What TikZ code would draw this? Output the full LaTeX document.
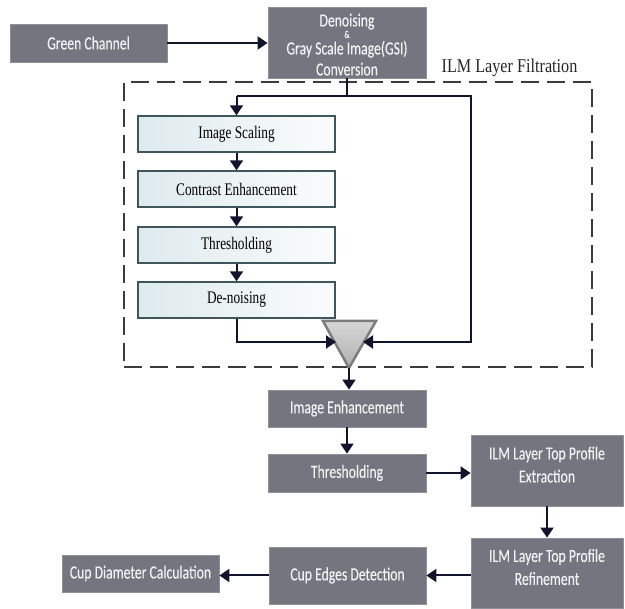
\documentclass[tikz,border=0pt]{standalone}
\usepackage{fontspec}
\usetikzlibrary{arrows.meta,calc}
\newfontfamily\boxfont[FakeStretch=0.74,FakeBold=0.3]{Carlito}
\newfontfamily\condserif[FakeStretch=0.75]{Liberation Serif}
\newfontfamily\titleserif[FakeStretch=0.83]{Liberation Serif}
\newcommand\gsifont{\boxfont\fontsize{18.5}{13}\selectfont\setlength{\lineskiplimit}{-50pt}}
\definecolor{boxgray}{RGB}{116,117,126}
\definecolor{boxtext}{RGB}{242,242,244}
\definecolor{arrowc}{RGB}{18,20,45}
\definecolor{innerline}{RGB}{62,86,92}
\definecolor{innerl}{RGB}{222,234,237}
\definecolor{innerr}{RGB}{250,252,252}
\definecolor{dashc}{RGB}{60,60,60}
\definecolor{tritop}{RGB}{215,215,215}
\definecolor{tribot}{RGB}{175,175,175}
\definecolor{triline}{RGB}{125,125,125}
\begin{document}
\begin{tikzpicture}[x=1pt,y=-1pt,
  darkbox/.style={draw=boxgray!80!white, line width=0.8pt, fill=boxgray, text=boxtext,
    font=\boxfont\fontsize{18.5}{23}\selectfont, align=center, inner sep=0pt, minimum width=157pt},
  innerbox/.style={draw=innerline, line width=1.4pt, left color=innerl, right color=innerr,
    font=\condserif\fontsize{17.7}{19}\selectfont, minimum width=197pt, minimum height=36pt, inner sep=0pt},
  flow/.style={draw=arrowc, line width=2pt, -{Triangle[width=13pt,length=10pt]}},
  plainline/.style={draw=arrowc, line width=2pt},
  frame/.style={draw=dashc, line width=1.5pt, dash pattern=on 18pt off 8pt, inner sep=0pt},
]
\useasboundingbox (0,0) rectangle (625,609);

% dashed frame and its title
\node[frame, minimum width=468pt, minimum height=285pt] (filt) at (358,224.5) {};
\node[font=\titleserif\fontsize{19.5}{20}\selectfont, text=black!85, inner sep=0pt] (title) at (509.5,68) {ILM Layer Filtration};

% top boxes
\node[darkbox, minimum height=38pt] (green) at (88.5,43) {Green Channel};
\node[darkbox, minimum width=158pt, minimum height=71pt, font=\gsifont] (gsi) at (347,42.5)
  {\rule{0pt}{17pt}Denoising\\[-1.5pt]{\fontsize{10.5}{10.5}\selectfont\&}\\[3.5pt]Gray Scale Image(GSI)\\[8pt]Conversion};

% inner filtration boxes
\node[innerbox] (scale) at (236.5,134) {Image Scaling};
\node[innerbox] (contrast) at (236.5,189) {Contrast Enhancement};
\node[innerbox] (thr1) at (236.5,245) {Thresholding};
\node[innerbox] (denoise) at (236.5,300) {De-noising};

% merge triangle
\coordinate (tl) at (323,321);
\coordinate (tr) at (376,321);
\coordinate (tb) at (349,368);
\coordinate (tinL) at (336,342);
\coordinate (tinR) at (363,342);
\draw[draw=triline, line width=2.5pt, top color=tritop, bottom color=tribot, line join=miter] (tl) -- (tr) -- (tb) -- cycle;

% lower boxes
\node[darkbox, minimum width=158pt, minimum height=37pt] (enh) at (347,408.5) {Image Enhancement};
\node[darkbox, minimum width=158pt, minimum height=38pt] (thr2) at (347,473) {Thresholding};
\node[darkbox, minimum width=152pt, minimum height=71pt, text depth=12pt] (extr) at (547,470.5) {ILM Layer Top Profile\\Extraction};
\node[darkbox, minimum width=152pt, minimum height=70pt, text depth=12pt] (refine) at (547,573) {ILM Layer Top Profile\\Refinement};
\node[darkbox, minimum width=157pt, minimum height=57pt] (cupedge) at (347.5,575.5) {Cup Edges Detection};
\node[darkbox, minimum width=157pt, minimum height=37pt] (cupdiam) at (140.5,573.5) {Cup Diameter Calculation};

% connectors
\coordinate (loopL) at (236.5,96);
\coordinate (loopR) at (471,96);
\draw[flow] (green.east) -- (green.east -| gsi.west);
\draw[plainline] (gsi.south) -- (gsi.south |- loopL);
\draw[flow] (loopL) -- (scale.north);
\draw[flow, line join=miter] (loopL) -- (loopR) |- (tinR);
\draw[flow] (scale) -- (contrast);
\draw[flow] (contrast) -- (thr1);
\draw[flow] (thr1) -- (denoise);
\draw[flow, line join=miter] (denoise.south) |- (tinL);
\draw[flow] (tb) -- (tb |- enh.north);
\draw[flow] (enh) -- (thr2);
\draw[flow] (thr2.east) -- (thr2.east -| extr.west);
\draw[flow] (extr) -- (refine);
\draw[flow] (refine.west |- cupedge.east) -- (cupedge.east);
\draw[flow] (cupedge.west) -- (cupedge.west -| cupdiam.east);
\end{tikzpicture}
\end{document}
